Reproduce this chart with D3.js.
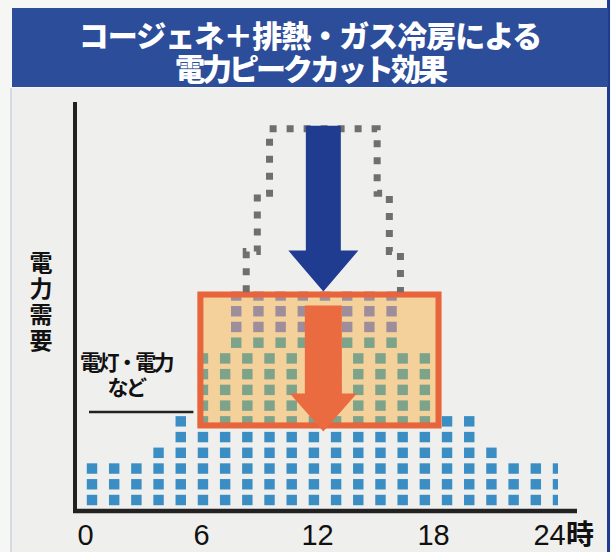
<!DOCTYPE html>
<html><head><meta charset="utf-8">
<script src="https://cdn.jsdelivr.net/npm/d3@7"></script>
<style>
body{margin:0;background:#f4f4f2}
svg{display:block}
.fo{margin:0 auto;padding:0;text-align:center;word-break:break-all}
.ttl{letter-spacing:-3px}
.ttl::first-line{letter-spacing:-1px}
</style>
</head><body>
<svg id="chart" width="611" height="552"></svg>
<script>
// ---------------- data ----------------
const titleLines = ["コージェネ＋排熱・ガス冷房による", "電力ピークカット効果"];
const yLabel = "電力需要";
const baseLabel = ["電灯・電力", "など"];
const hourTicks = [0, 6, 12, 18, 24];
const hourUnit = "時";
// pictogram columns across the day
const columns = d3.range(22);
// squares of lighting / power demand per column (blue)
const baseSquares =    [3,3,3,4,6,5,5,5,5,5,5,5,5,5,5,5,6,6,4,3,3,3];
// squares of cooling demand covered by cogeneration + gas cooling (green)
const coolingSquares = [0,0,0,0,0,5,5,5,5,5,5,5,5,5,5,5,0,0,0,0,0,0];
// upper peak layer, set between the columns
const peakColumns = [6.5,7.5,8.5,9.5,10.5,11.5,12.5,13.5];
const peakGreen   = [1,1,1,1,1,1,1,1];
const peakPurple  = [3,3,3,3,3,3,3,3];
// original demand outline (column, row) before the peak cut
const peakOutline = [[6.95,13.2],[6.95,15.8],[7.45,15.8],[7.45,19.5],[8.0,19.5],[8.0,23.6],
                     [12.85,23.6],[12.85,19.5],[13.4,19.5],[13.4,15.8],[13.9,15.8],[13.9,13.2]];

// ---------------- setup ----------------
const W = 611, H = 552;
const svg = d3.select("#chart");
const C = {
  bg:"#efefed", banner:"#2c4d9a", blue:"#3a8ec4", green:"#7da38b", purple:"#9e8e9c",
  boxFill:"#f4d19b", boxStroke:"#e8643c", orange:"#ea6b40", navy:"#1f3c91",
  outline:"#6f6f6f", axis:"#222"
};
const jp = "'Noto Sans CJK JP','Noto Sans',sans-serif";

const xScale = d3.scaleLinear().domain([0, 24]).range([85, 549]);
const colScale = d3.scaleLinear().domain([0, 21]).range([92, 558]);
const rowScale = d3.scaleLinear().domain([0, 13]).range([500, 295.5]);
const sq = (colScale(1) - colScale(0)) * 0.47;
const axisY = 511, axisX = 75;

// background panel
svg.append("rect").attr("width", W).attr("height", H).attr("fill", "#f6f6f4");
svg.append("rect").attr("x", 12).attr("y", 88).attr("width", 596).attr("height", H - 88).attr("fill", C.bg);
svg.append("line").attr("x1", 608.5).attr("x2", 608.5).attr("y1", 0).attr("y2", H)
  .attr("stroke", C.navy).attr("stroke-width", 3);
svg.append("line").attr("x1", 11).attr("x2", 11).attr("y1", 88).attr("y2", H)
  .attr("stroke", "#c9cfdc").attr("stroke-width", 1.5);

// title banner (one text, wrapped into two lines)
svg.append("rect").attr("x", 12).attr("y", 8).attr("width", 596).attr("height", 79).attr("fill", C.banner);
svg.append("foreignObject").attr("x", 12).attr("y", 18.4).attr("width", 596).attr("height", 68)
  .append("xhtml:div").attr("class", "fo ttl")
  .style("width", "482px")
  .style("font-family", jp).style("font-weight", "900").style("font-size", "30px")
  .style("line-height", "33px").style("color", "#fff")
  .text(titleLines.join(""));

// ---------------- squares ----------------
const gSq = svg.append("g");
svg.append("clipPath").attr("id", "gridclip").append("rect")
  .attr("x", axisX).attr("y", 0).attr("width", colScale(21) - axisX).attr("height", H);
gSq.attr("clip-path", "url(#gridclip)");

const blueCells = [];
columns.forEach(c => { for (let r = 0; r < baseSquares[c]; r++) blueCells.push({c, r}); });
gSq.selectAll("rect.base").data(blueCells).join("rect").attr("class", "base")
  .attr("x", d => colScale(d.c) - sq / 2).attr("y", d => rowScale(d.r) - sq / 2)
  .attr("width", sq).attr("height", sq).attr("fill", C.blue);

// box covering the cooling demand
const coolIdx = columns.filter(c => coolingSquares[c] > 0);
const topRow = d3.max(peakColumns, (p, i) => baseSquares[Math.floor(p)] + coolingSquares[Math.floor(p)] + peakGreen[i] + peakPurple[i] - 1);
const minCoolRow = d3.min(coolIdx, c => baseSquares[c]);
const box = {
  x0: colScale(coolIdx[0] - 0.25), x1: colScale(coolIdx[coolIdx.length - 1] + 0.75),
  y0: rowScale(topRow + 0.25), y1: rowScale(minCoolRow - 0.45)
};
svg.append("rect").attr("x", box.x0).attr("y", box.y0)
  .attr("width", box.x1 - box.x0).attr("height", box.y1 - box.y0).attr("fill", C.boxFill);

svg.append("clipPath").attr("id", "boxclip").append("rect")
  .attr("x", box.x0).attr("y", box.y0).attr("width", box.x1 - box.x0).attr("height", box.y1 - box.y0);
const gIn = svg.append("g").attr("clip-path", "url(#boxclip)");

const coolCells = [];
columns.forEach(c => { for (let k = 0; k < coolingSquares[c]; k++) coolCells.push({c, r: baseSquares[c] + k}); });
gIn.selectAll("rect.cool").data(coolCells).join("rect").attr("class", "cool")
  .attr("x", d => colScale(d.c) - sq / 2).attr("y", d => rowScale(d.r) - sq / 2)
  .attr("width", sq).attr("height", sq).attr("fill", C.green);

const peakCells = [];
peakColumns.forEach((p, i) => {
  const start = baseSquares[Math.floor(p)] + coolingSquares[Math.floor(p)];
  for (let k = 0; k < peakGreen[i]; k++) peakCells.push({c: p, r: start + k, f: C.green});
  for (let k = 0; k < peakPurple[i]; k++) peakCells.push({c: p, r: start + peakGreen[i] + k, f: C.purple});
});
gIn.selectAll("rect.peak").data(peakCells).join("rect").attr("class", "peak")
  .attr("x", d => colScale(d.c) - sq / 2).attr("y", d => rowScale(d.r) - sq / 2)
  .attr("width", sq).attr("height", sq).attr("fill", d => d.f);

// box border
const bw = 6;
svg.append("rect").attr("x", box.x0 + bw / 2).attr("y", box.y0 + bw / 2)
  .attr("width", box.x1 - box.x0 - bw).attr("height", box.y1 - box.y0 - bw)
  .attr("fill", "none").attr("stroke", C.boxStroke).attr("stroke-width", bw);

// dotted original-demand outline
const outLine = d3.line().x(d => colScale(d[0])).y(d => rowScale(d[1]));
svg.append("path").attr("d", outLine(peakOutline)).attr("fill", "none")
  .attr("stroke", C.outline).attr("stroke-width", 7).attr("stroke-dasharray", "7 10");

// arrows
const cx = colScale((peakOutline[5][0] + peakOutline[6][0]) / 2);
function arrow(x, top, headBase, tip, shaftHalf, headHalf) {
  return `M${x - shaftHalf},${top}H${x + shaftHalf}V${headBase}H${x + headHalf}L${x},${tip}L${x - headHalf},${headBase}H${x - shaftHalf}Z`;
}
const blueTop = rowScale(peakOutline[5][1]) - 3;
svg.append("path").attr("d", arrow(cx, blueTop, box.y0 - 41, box.y0, 17.5, 35)).attr("fill", C.navy);
svg.append("path").attr("d", arrow(cx, box.y0 + 14, box.y1 - 35, box.y1 + 3, 18.5, 33.5)).attr("fill", C.orange);

// ---------------- axes ----------------
svg.append("line").attr("x1", axisX).attr("x2", axisX).attr("y1", 102).attr("y2", axisY + 2)
  .attr("stroke", C.axis).attr("stroke-width", 4);
svg.append("line").attr("x1", axisX - 2).attr("x2", xScale(24) + 28).attr("y1", axisY).attr("y2", axisY)
  .attr("stroke", C.axis).attr("stroke-width", 4.5);

const ax = svg.append("g").attr("transform", `translate(0,${axisY})`)
  .call(d3.axisBottom(xScale).tickValues(hourTicks).tickSize(0).tickPadding(13).tickFormat(d3.format("d")));
ax.select(".domain").remove();
ax.selectAll("text").attr("font-family", "'Liberation Sans',Arial,sans-serif")
  .attr("font-size", 29).attr("fill", "#111");
svg.append("text").attr("x", xScale(24) + 17).attr("y", 545)
  .attr("font-family", jp).attr("font-weight", 700).attr("font-size", 28).attr("fill", "#111")
  .text(hourUnit);

// y label (vertical, one text)
svg.append("text").attr("x", 41).attr("y", 251)
  .style("writing-mode", "vertical-rl").style("letter-spacing", "3px")
  .attr("font-family", jp).attr("font-weight", 700).attr("font-size", 23).attr("fill", "#111")
  .text(yLabel);

// base label (one text, wrapped into two lines)
svg.append("foreignObject").attr("x", 66).attr("y", 349.3).attr("width", 120).attr("height", 52)
  .append("xhtml:div").attr("class", "fo")
  .style("width", "100px").style("letter-spacing", "-2.6px")
  .style("font-family", jp).style("font-weight", "700").style("font-size", "21px")
  .style("line-height", "25px").style("color", "#111")
  .text(baseLabel.join(""));
svg.append("line").attr("x1", 89).attr("x2", box.x0 - 4).attr("y1", rowScale(5.6)).attr("y2", rowScale(5.6))
  .attr("stroke", C.axis).attr("stroke-width", 2.5);
</script>
</body></html>
